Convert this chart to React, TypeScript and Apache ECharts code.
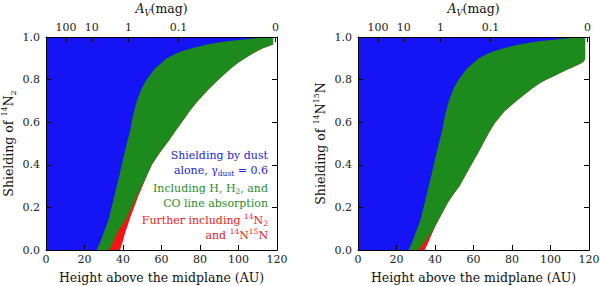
import React, { useEffect, useRef } from "react";
import * as echarts from "echarts";

// Top axis: A_V (mag) tick positions (height, AU) and labels
const AV_POSITIONS = [10.4, 23.8, 42.8, 68.8, 119.2];
const AV_LABELS = ["100", "10", "1", "0.1", "0"];

// Shielding by dust alone (same in both panels)
const dustX = [0, 26.3, 27.3, 28.5, 29.8, 31, 32.4, 35, 38.1, 40, 42, 43.7, 45.3, 47.2, 49.5, 52.3, 56.7, 62.8, 69, 76.6, 85, 94, 104, 112, 118];
const dustY = [0, 0, 0.02, 0.045, 0.077, 0.105, 0.14, 0.235, 0.35, 0.425, 0.5, 0.56, 0.635, 0.7, 0.755, 0.8, 0.853, 0.9, 0.928, 0.95, 0.967, 0.98, 0.99, 0.996, 1.0];

// Left panel (14N2): including H, H2, CO line absorption
const h2LeftX = [0, 33.0, 34.2, 35.5, 36.8, 38.2, 39.8, 41.6, 43, 44.5, 47, 49.8, 52.4, 55, 59, 63.6, 67, 70.6, 74.5, 78.4, 84, 89.7, 95.7, 100, 103.5, 107, 110, 113, 116, 118];
const h2LeftY = [0, 0, 0.025, 0.05, 0.077, 0.1, 0.12, 0.145, 0.172, 0.2, 0.25, 0.3, 0.35, 0.4, 0.455, 0.51, 0.555, 0.6, 0.65, 0.695, 0.75, 0.8, 0.85, 0.88, 0.9, 0.92, 0.935, 0.948, 0.958, 0.965];
// Left panel: further including 14N2 and 14N15N
const n2LeftX = [0, 38.5, 39.3, 40.2, 41, 41.8, 42.6, 43.5, 44.6, 45.7, 47.8, 50.2, 52.5, 55, 59, 63.6, 67, 70.6, 74.5, 78.4, 84, 89.7, 95.7, 100, 103.5, 107, 110, 113, 116, 118];
const n2LeftY = [0, 0, 0.025, 0.05, 0.077, 0.1, 0.12, 0.145, 0.172, 0.2, 0.25, 0.3, 0.35, 0.4, 0.455, 0.51, 0.555, 0.6, 0.65, 0.695, 0.75, 0.8, 0.85, 0.88, 0.9, 0.92, 0.935, 0.948, 0.958, 0.965];

// Right panel (14N15N): including H, H2, CO line absorption
const h2RightX = [0, 31.2, 32.5, 34, 36, 38.1, 40.2, 42.4, 44.5, 46.5, 49.5, 52.8, 55.8, 58.9, 62, 65, 68, 71, 76, 82.3, 86, 90, 94, 98, 101.5, 104.8, 108.3, 111, 113.5, 115.5, 117, 118];
const h2RightY = [0, 0, 0.014, 0.033, 0.055, 0.08, 0.115, 0.15, 0.185, 0.22, 0.26, 0.3, 0.35, 0.4, 0.45, 0.5, 0.55, 0.595, 0.65, 0.7, 0.727, 0.755, 0.78, 0.8, 0.815, 0.83, 0.845, 0.856, 0.866, 0.874, 0.883, 0.895];
// Right panel: further including 14N2 and 14N15N
const n2RightX = [0, 34.6, 35.4, 36.4, 37.4, 38.6, 40.4, 42.4, 44.5, 46.5, 49.5, 52.8, 55.8, 58.9, 62, 65, 68, 71, 76, 82.3, 86, 90, 94, 98, 101.5, 104.8, 108.3, 111, 113.5, 115.5, 117, 118];
const n2RightY = [0, 0, 0.014, 0.033, 0.055, 0.08, 0.115, 0.15, 0.185, 0.22, 0.26, 0.3, 0.35, 0.4, 0.45, 0.5, 0.55, 0.595, 0.65, 0.7, 0.727, 0.755, 0.78, 0.8, 0.815, 0.83, 0.845, 0.856, 0.866, 0.874, 0.883, 0.895];

const BLUE = "#1414f4";
const GREEN = "#1c8a1c";
const RED = "#f81414";
const FONT = "'DejaVu Serif', 'Liberation Serif', serif";

const zip = (xs: number[], ys: number[]) => xs.map((x, i) => [x, ys[i]]);

export default function App() {
  const ref = useRef<HTMLDivElement>(null);

  useEffect(() => {
    if (!ref.current) return;
    const chart = echarts.init(ref.current, null, { renderer: "svg" });

    const richName = {
      n: { fontFamily: FONT, fontSize: 12.5, lineHeight: 17, color: "#111" },
      sup: { fontFamily: FONT, fontSize: 8, lineHeight: 9, verticalAlign: "top", color: "#111" },
      sub: { fontFamily: FONT, fontSize: 8, lineHeight: 9, verticalAlign: "bottom", color: "#111" },
      it: { fontFamily: FONT, fontStyle: "italic", fontSize: 12.5, lineHeight: 17, color: "#111" },
      itsub: { fontFamily: FONT, fontStyle: "italic", fontSize: 8.5, lineHeight: 9, verticalAlign: "bottom", color: "#111" },
    };

    const bottomAxis = (gridIndex: number) => ({
      type: "value",
      gridIndex,
      position: "bottom",
      min: 0,
      max: 120,
      interval: 20,
      z: 10,
      axisLine: { show: true, onZero: false, lineStyle: { color: "#000", width: 1 } },
      axisTick: { show: true, inside: true, length: 5, lineStyle: { color: "#000" } },
      axisLabel: { fontFamily: FONT, fontSize: 11, color: "#222", margin: 4 },
      splitLine: { show: false },
      name: "{n|Height above the midplane (AU)}",
      nameLocation: "middle",
      nameGap: 19,
      nameTextStyle: { rich: richName },
    });

    const topAxis = (gridIndex: number) => ({
      type: "value",
      gridIndex,
      position: "top",
      min: 0,
      max: 120,
      z: 10,
      axisLine: { show: true, onZero: false, lineStyle: { color: "#000", width: 1 } },
      axisTick: { show: true, inside: true, length: 5, customValues: AV_POSITIONS, lineStyle: { color: "#000" } },
      axisLabel: {
        fontFamily: FONT,
        fontSize: 11,
        color: "#222",
        margin: 4,
        customValues: AV_POSITIONS,
        formatter: (v: number) => {
          let best = 0;
          AV_POSITIONS.forEach((p, i) => {
            if (Math.abs(p - v) < Math.abs(AV_POSITIONS[best] - v)) best = i;
          });
          return AV_LABELS[best];
        },
      },
      splitLine: { show: false },
      name: "{it|A}{itsub|V}{n|(mag)}",
      nameLocation: "middle",
      nameGap: 20,
      nameTextStyle: { rich: richName },
    });

    const leftAxis = (gridIndex: number, name: string) => ({
      type: "value",
      gridIndex,
      position: "left",
      min: 0,
      max: 1,
      interval: 0.2,
      z: 10,
      axisLine: { show: true, onZero: false, lineStyle: { color: "#000", width: 1 } },
      axisTick: { show: true, inside: true, length: 5, lineStyle: { color: "#000" } },
      axisLabel: { fontFamily: FONT, fontSize: 11, color: "#222", margin: 6, formatter: (v: number) => v.toFixed(1) },
      splitLine: { show: false },
      name,
      nameLocation: "middle",
      nameGap: 29,
      nameRotate: 90,
      nameTextStyle: { rich: richName },
    });

    const rightAxis = (gridIndex: number) => ({
      type: "value",
      gridIndex,
      position: "right",
      min: 0,
      max: 1,
      interval: 0.2,
      z: 10,
      axisLine: { show: true, onZero: false, lineStyle: { color: "#000", width: 1 } },
      axisTick: { show: true, inside: true, length: 5, lineStyle: { color: "#000" } },
      axisLabel: { show: false },
      splitLine: { show: false },
    });

    const area = (xi: number, yi: number, xs: number[], ys: number[], color: string) => ({
      type: "line",
      xAxisIndex: xi,
      yAxisIndex: yi,
      data: zip(xs, ys),
      smooth: false,
      showSymbol: false,
      symbol: "none",
      lineStyle: { width: 0, color },
      areaStyle: { origin: "end", color, opacity: 1 },
      silent: true,
    });

    const textLine = (y: number, text: string, color: string) => ({
      type: "text",
      z: 100,
      style: {
        x: 268,
        y,
        text,
        fill: color,
        align: "right",
        verticalAlign: "middle",
        fontFamily: FONT,
        fontSize: 11,
        rich: {
          sup: { fontFamily: FONT, fontSize: 7.5, lineHeight: 8, verticalAlign: "top", fill: color },
          sub: { fontFamily: FONT, fontSize: 7.5, lineHeight: 8, verticalAlign: "bottom", fill: color },
          n: { fontFamily: FONT, fontSize: 11, lineHeight: 15, fill: color },
          g: { fontFamily: FONT, fontSize: 11, lineHeight: 15, fill: color },
        },
      },
    });

    chart.setOption({
      animation: false,
      backgroundColor: "#fff",
      textStyle: { fontFamily: FONT },
      grid: [
        { left: 46, top: 37, width: 231, height: 213, containLabel: false, outerBoundsMode: "none" },
        { left: 358, top: 37, width: 231, height: 213, containLabel: false, outerBoundsMode: "none" },
      ],
      xAxis: [bottomAxis(0), topAxis(0), bottomAxis(1), topAxis(1)],
      yAxis: [
        leftAxis(0, "{n|Shielding of }{sup|14}{n|N}{sub|2}"),
        rightAxis(0),
        leftAxis(1, "{n|Shielding of }{sup|14}{n|N}{sup|15}{n|N}"),
        rightAxis(1),
      ],
      series: [
        area(0, 0, n2LeftX, n2LeftY, RED),
        area(0, 0, h2LeftX, h2LeftY, GREEN),
        area(0, 0, dustX, dustY, BLUE),
        area(2, 2, n2RightX, n2RightY, RED),
        area(2, 2, h2RightX, h2RightY, GREEN),
        area(2, 2, dustX, dustY, BLUE),
      ],
      graphic: [
        textLine(155.5, "{n|Shielding by dust}", "#2424dc"),
        textLine(170, "{n|alone, }{g|γ}{sub|dust}{n| = 0.6}", "#2424dc"),
        textLine(188, "{n|Including H, H}{sub|2}{n|, and}", "#2a8c2a"),
        textLine(203.5, "{n|CO line absorption}", "#2a8c2a"),
        textLine(220, "{n|Further including }{sup|14}{n|N}{sub|2}", "#ec2020"),
        textLine(235, "{n|and }{sup|14}{n|N}{sup|15}{n|N}", "#ec2020"),
      ],
    });

    return () => chart.dispose();
  }, []);

  return <div ref={ref} style={{ width: 600, height: 286, position: "absolute", left: 0, top: 0 }} />;
}
